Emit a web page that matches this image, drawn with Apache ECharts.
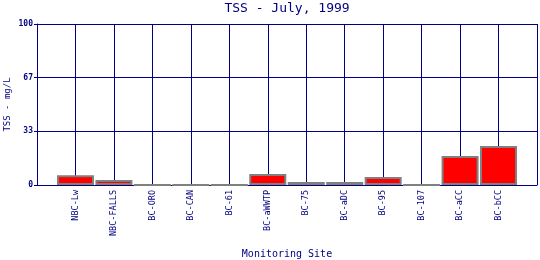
<!DOCTYPE html>
<html>
<head>
<meta charset="utf-8">
<script src="https://cdn.jsdelivr.net/npm/echarts@6/dist/echarts.min.js"></script>
<style>html,body{margin:0;padding:0;background:#fff;}#c{width:540px;height:260px;}</style>
</head>
<body>
<div id="c"></div>
<script>
var sites = ['NBC-Lw','NBC-FALLS','BC-ORO','BC-CAN','BC-61','BC-aWWTP','BC-75','BC-aDC','BC-95','BC-107','BC-aCC','BC-bCC'];
var tss = [6.0, 3.1, 0, 0, 0, 6.8, 1.9, 1.9, 5.0, 0, 18.0, 24.2];
var yTicks = [0, 33, 67, 100];

var navy = '#000080';
var mono = '"DejaVu Sans Mono", "Liberation Mono", monospace';
var cats = [''].concat(sites).concat(['']);
var vals = [null].concat(tss).concat([null]);

var chart = echarts.init(document.getElementById('c'), null, {renderer: 'canvas'});
chart.setOption({
  backgroundColor: '#ffffff',
  animation: false,
  title: {
    text: 'TSS - July, 1999',
    left: 287, top: 2, padding: 0, textAlign: 'center',
    textStyle: {color: navy, fontFamily: mono, fontSize: 13, fontWeight: 'normal'}
  },
  grid: {left: 37, right: 3, top: 24, bottom: 75, containLabel: false, outerBoundsMode: 'none'},
  xAxis: {
    type: 'category',
    data: cats,
    boundaryGap: false,
    name: 'Monitoring Site',
    nameLocation: 'middle',
    nameGap: 64,
    nameMoveOverlap: false,
    nameTextStyle: {color: navy, fontFamily: mono, fontSize: 10},
    axisLine: {show: true, lineStyle: {color: navy, width: 1}},
    axisTick: {show: false},
    axisLabel: {
      interval: 0, rotate: 90, color: navy, fontFamily: mono, fontSize: 8.5, margin: 5
    },
    splitLine: {show: true, lineStyle: {color: navy, width: 1}}
  },
  yAxis: {
    type: 'value',
    min: 0, max: 100, interval: 100 / 3,
    name: 'TSS - mg/L',
    nameLocation: 'middle',
    nameGap: 25,
    nameMoveOverlap: false,
    nameTextStyle: {color: navy, fontFamily: mono, fontSize: 9},
    axisLine: {show: true, lineStyle: {color: navy, width: 1}},
    axisTick: {show: true, length: 3, lineStyle: {color: navy}},
    axisLabel: {
      color: navy, fontFamily: mono, fontSize: 8, fontWeight: 'bold', margin: 4,
      formatter: function (v) {
        for (var i = 0; i < yTicks.length; i++) if (Math.abs(yTicks[i] - v) < 1) return String(yTicks[i]);
        return String(Math.round(v));
      }
    },
    splitLine: {show: true, lineStyle: {color: navy, width: 1}}
  },
  series: [{
    type: 'bar',
    data: vals,
    barWidth: 37,
    itemStyle: {color: '#ff0000', borderColor: '#808080', borderWidth: 2}
  }]
});
</script>
</body>
</html>
